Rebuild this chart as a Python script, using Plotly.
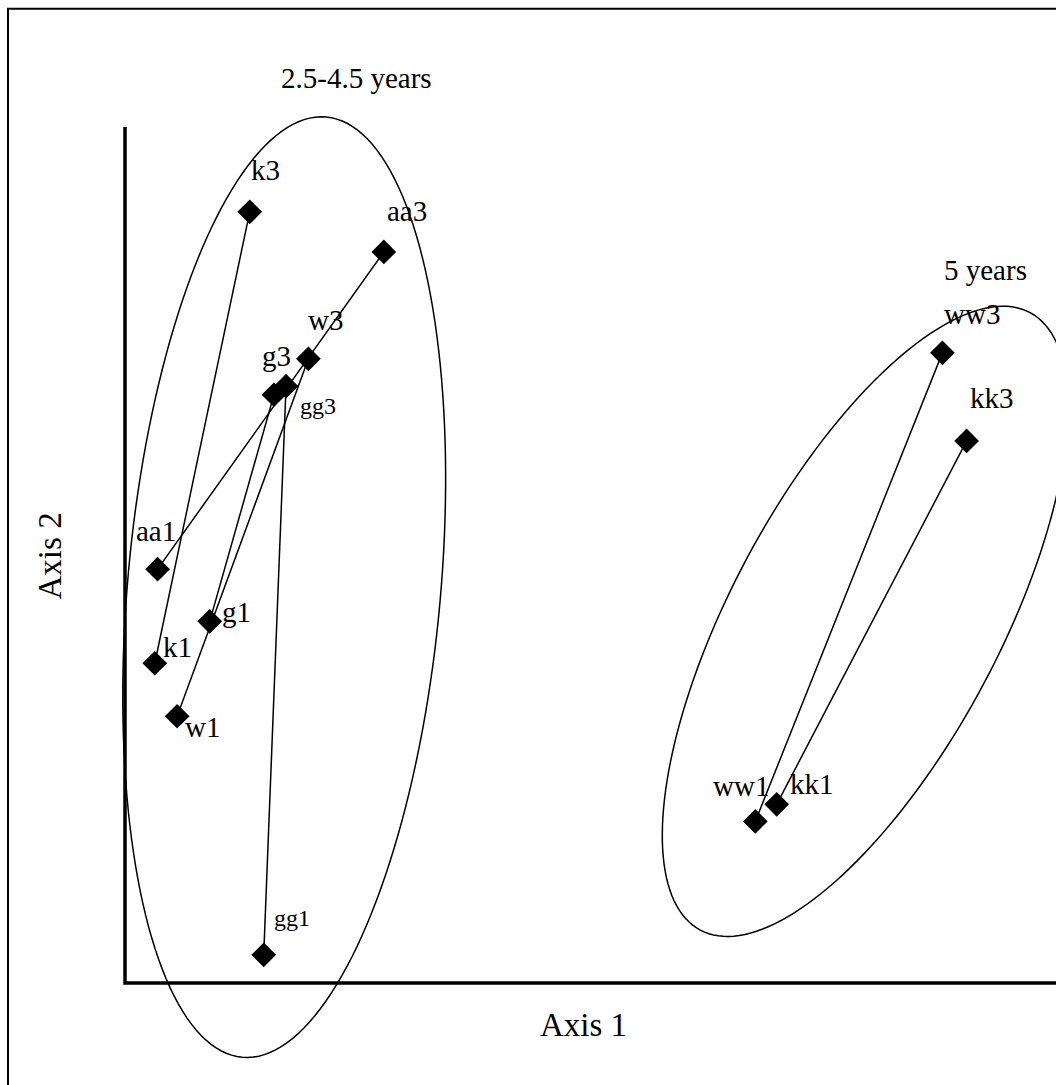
import numpy as np
import plotly.graph_objects as go

# Subjects measured at two occasions (1 and 3) in ordination space
subjects = ["k", "aa", "w", "g", "gg", "ww", "kk"]
axis1_t1 = [0.32, 0.35, 0.56, 0.91, 1.49, 6.77, 7.00]
axis2_t1 = [3.74, 4.84, 3.12, 4.23, 0.33, 1.89, 2.09]
axis1_t3 = [1.34, 2.78, 1.97, 1.60, 1.73, 8.78, 9.04]
axis2_t3 = [9.02, 8.55, 7.30, 6.88, 6.98, 7.37, 6.34]

group_names = ["2.5-4.5 years", "5 years"]
group_centers_x = [1.71, 7.95]
group_centers_y = [4.63, 4.23]

# Canvas geometry: axis origin placed at pixel (125, 983)
W, H = 1056, 1085
OX, OY = 125, 983
SX, SY = 93.1, 85.5  # pixels per data unit
xr = [-OX / SX, (W - OX) / SX]
yr = [(OY - H) / SY, OY / SY]

FONT = "Liberation Serif"

fig = go.Figure()

# Pixel offsets for the point labels (label centre relative to marker)
label_off = {
    "k1": (23, -16), "k3": (16, -42),
    "aa1": (-2, -38), "aa3": (23, -41),
    "w1": (25, 11), "w3": (17, -39),
    "g1": (27, -9), "g3": (3, -39),
    "gg1": (28, -37), "gg3": (32, 20),
    "ww1": (-14, -35), "ww3": (30, -39),
    "kk1": (35, -20), "kk3": (25, -43),
}
small = {"gg1", "gg3"}

annotations = []
for i, s in enumerate(subjects):
    fig.add_trace(go.Scatter(
        x=[axis1_t1[i], axis1_t3[i]], y=[axis2_t1[i], axis2_t3[i]],
        mode="lines+markers",
        line=dict(color="black", width=1.5),
        marker=dict(symbol="diamond", size=19, color="black"),
        cliponaxis=False, showlegend=False, hoverinfo="skip",
    ))
    for tag, xx, yy in ((s + "1", axis1_t1[i], axis2_t1[i]),
                        (s + "3", axis1_t3[i], axis2_t3[i])):
        dx, dy = label_off[tag]
        annotations.append(dict(
            x=xx, y=yy, xref="x", yref="y", text=tag, showarrow=False,
            xanchor="center", yanchor="middle", xshift=dx, yshift=-dy,
            font=dict(family=FONT, size=24 if tag in small else 29, color="black"),
        ))

# Group labels
annotations.append(dict(x=2.49, y=10.58, xref="x", yref="y", text=group_names[0],
                        showarrow=False, font=dict(family=FONT, size=29, color="black")))
annotations.append(dict(x=9.24, y=8.34, xref="x", yref="y", text=group_names[1],
                        showarrow=False, font=dict(family=FONT, size=29, color="black")))
# Axis titles
annotations.append(dict(x=4.92, y=-0.49, xref="x", yref="y", text="Axis 1",
                        showarrow=False, font=dict(family=FONT, size=33, color="black")))
annotations.append(dict(x=-0.806, y=5.0, xref="x", yref="y", text="Axis 2", textangle=-90,
                        showarrow=False, font=dict(family=FONT, size=33, color="black")))


def ellipse_path(cx, cy, a, b, tilt_deg, n=180):
    """Rotated ellipse (semi-axes in pixels, tilt from vertical) as a data-space path."""
    t = np.linspace(0, 2 * np.pi, n, endpoint=False)
    th = np.radians(tilt_deg)
    # major axis along the vertical, rotated clockwise on screen
    u = b * np.cos(t)
    v = a * np.sin(t)
    px = u * np.cos(th) + v * np.sin(th)
    py = -u * np.sin(th) + v * np.cos(th)  # upward positive
    xs = cx + px / SX
    ys = cy + py / SY
    pts = [f"{x:.4f},{y:.4f}" for x, y in zip(xs, ys)]
    return "M " + " L ".join(pts) + " Z"


y_top = (OY - 127) / SY
shapes = [
    # group enclosures
    dict(type="path", xref="x", yref="y",
         path=ellipse_path(group_centers_x[0], group_centers_y[0], 472, 156.5, 5.1),
         line=dict(color="black", width=1.5)),
    dict(type="path", xref="x", yref="y",
         path=ellipse_path(group_centers_x[1], group_centers_y[1], 350, 134, 28.1),
         line=dict(color="black", width=1.5)),
    # axis lines
    dict(type="path", xref="x", yref="y",
         path=f"M 0,{y_top:.3f} L 0,0 L {xr[1] + 0.2:.3f},0",
         line=dict(color="black", width=3.5)),
    # outer frame
    dict(type="rect", xref="paper", yref="paper",
         x0=8 / W, x1=1.02, y0=-0.02, y1=1 - 8.7 / H,
         line=dict(color="black", width=2)),
]

fig.update_layout(
    width=W, height=H,
    margin=dict(l=0, r=0, t=0, b=0),
    paper_bgcolor="white", plot_bgcolor="white",
    xaxis=dict(range=xr, visible=False, fixedrange=True),
    yaxis=dict(range=yr, visible=False, fixedrange=True),
    shapes=shapes, annotations=annotations,
    showlegend=False,
)

fig.write_html("out.html")
